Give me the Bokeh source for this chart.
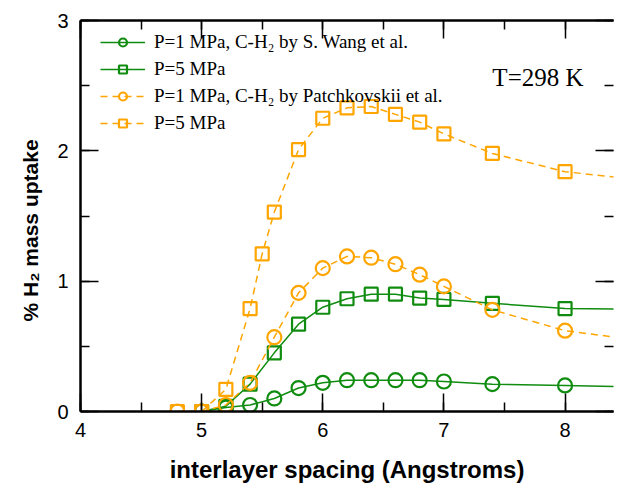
from bokeh.plotting import figure
from bokeh.models import (LinearAxis, SingleIntervalTicker, Range1d, Legend, LegendItem, Label,
                          CustomLabelingPolicy, Title)
from bokeh.embed import file_html
from bokeh.resources import INLINE

# ---- data ----
x_wang = [5.0, 5.2, 5.4, 5.6, 5.8, 6.0, 6.2, 6.4, 6.6, 6.8, 7.0, 7.4, 8.0, 9.0]
wang_1mpa = [0.0, 0.03, 0.05, 0.10, 0.18, 0.22, 0.24, 0.24, 0.24, 0.24, 0.23, 0.21, 0.20, 0.18]
wang_5mpa = [0.0, 0.04, 0.21, 0.45, 0.67, 0.80, 0.865, 0.90, 0.90, 0.87, 0.86, 0.83, 0.79, 0.78]

x_patch_1 = [4.8, 5.0, 5.2, 5.4, 5.6, 5.8, 6.0, 6.2, 6.4, 6.6, 6.8, 7.0, 7.4, 8.0, 9.0]
patch_1mpa = [0.0, 0.0, 0.05, 0.22, 0.57, 0.91, 1.10, 1.19, 1.18, 1.13, 1.05, 0.96, 0.78, 0.62, 0.50]
x_patch_5 = [4.8, 5.0, 5.2, 5.4, 5.5, 5.6, 5.8, 6.0, 6.2, 6.4, 6.6, 6.8, 7.0, 7.4, 8.0, 9.0]
patch_5mpa = [0.0, 0.0, 0.17, 0.79, 1.21, 1.53, 2.01, 2.25, 2.33, 2.34, 2.28, 2.22, 2.13, 1.98, 1.84, 1.74]

labels = ["P=1 MPa, C-H\u2082 by S. Wang et al.",
          "P=5 MPa",
          "P=1 MPa, C-H\u2082 by Patchkovskii et al.",
          "P=5 MPa"]
x_title = "interlayer spacing (Angstroms)"
y_title = "% H\u2082 mass uptake"
note = "T=298 K"
x_view = (4, 8.40)
y_view = (0, 3)

GREEN = "#108c10"
ORANGE = "#ffa500"

p = figure(width=617, height=485, output_backend="svg", toolbar_location=None,
           x_range=Range1d(*x_view), y_range=Range1d(*y_view),
           min_border_left=80, min_border_right=0, min_border_top=20, min_border_bottom=73,
           x_axis_location=None, y_axis_location=None)
p.grid.visible = False
p.outline_line_color = None
p.background_fill_color = "white"
p.border_fill_color = "white"

hide_all = CustomLabelingPolicy(code="for (const i of indices) indices.unset(i)")

def style_axis(ax, labels_on=True):
    ax.ticker = SingleIntervalTicker(interval=1, num_minor_ticks=2)
    ax.major_tick_in = 18
    ax.major_tick_out = 0
    ax.minor_tick_in = 9
    ax.minor_tick_out = 0
    ax.major_tick_line_color = "black"
    ax.minor_tick_line_color = "black"
    ax.major_tick_line_width = 1.5
    ax.minor_tick_line_width = 1.5
    ax.axis_line_width = 2.5
    ax.axis_line_color = "black"
    if labels_on:
        ax.major_label_text_font = "Liberation Sans"
        ax.major_label_text_font_size = "20px"
        ax.major_label_text_color = "black"
    else:
        ax.major_label_text_font_size = "1px"
        ax.major_label_standoff = 0
        ax.major_label_policy = hide_all

xb = LinearAxis(axis_label=x_title)
style_axis(xb)
xb.major_label_standoff = 11
xb.axis_label_standoff = 16
xb.axis_label_text_font = "Liberation Sans"
xb.axis_label_text_font_style = "bold"
xb.axis_label_text_font_size = "24px"
xb.axis_label_text_color = "black"
p.add_layout(xb, "below")

yl = LinearAxis()
style_axis(yl)
yl.major_label_standoff = 12
p.add_layout(yl, "left")

# y title: a left-side title, started 90px above the frame bottom
p.add_layout(Title(text=y_title, align="left", offset=90, standoff=24,
                   vertical_align="middle", text_font="Liberation Sans",
                   text_font_style="bold", text_font_size="21px", text_color="black"), "left")

xt = LinearAxis()
style_axis(xt, labels_on=False)
p.add_layout(xt, "above")

yr = LinearAxis()
style_axis(yr, labels_on=False)
yr.axis_line_color = None
p.add_layout(yr, "right")

# ---- series ----
r_gc_l = p.line(x_wang, wang_1mpa, line_color=GREEN, line_width=1.5)
r_gc_m = p.scatter(x_wang, wang_1mpa, marker="circle", size=14, line_color=GREEN,
                   line_width=2.2, fill_color=None)
r_gs_l = p.line(x_wang, wang_5mpa, line_color=GREEN, line_width=1.5)
r_gs_m = p.scatter(x_wang, wang_5mpa, marker="square", size=13, line_color=GREEN,
                   line_width=2.2, fill_color=None)
r_oc_l = p.line(x_patch_1, patch_1mpa, line_color=ORANGE, line_width=1.5, line_dash="7 5")
r_oc_m = p.scatter(x_patch_1, patch_1mpa, marker="circle", size=14, line_color=ORANGE,
                   line_width=2.2, fill_color=None)
r_os_l = p.line(x_patch_5, patch_5mpa, line_color=ORANGE, line_width=1.5, line_dash="7 5")
r_os_m = p.scatter(x_patch_5, patch_5mpa, marker="square", size=13, line_color=ORANGE,
                   line_width=2.2, fill_color=None)

legend = Legend(items=[
    LegendItem(label=labels[0], renderers=[r_gc_l, r_gc_m]),
    LegendItem(label=labels[1], renderers=[r_gs_l, r_gs_m]),
    LegendItem(label=labels[2], renderers=[r_oc_l, r_oc_m]),
    LegendItem(label=labels[3], renderers=[r_os_l, r_os_m]),
], location=(20, 277))
legend.border_line_color = None
legend.background_fill_alpha = 0
legend.label_text_font = "Liberation Serif"
legend.label_text_font_size = "19px"
legend.label_text_color = "black"
legend.glyph_width = 45
legend.glyph_height = 20
legend.label_height = 20
legend.spacing = 5
legend.padding = 8
legend.margin = 0
legend.label_standoff = 9
p.add_layout(legend, "center")

p.add_layout(Label(x=7.40, y=2.46, text=note, text_font="Liberation Serif",
                   text_font_size="25px", text_color="black"))

open("out.html", "w").write(file_html(p, INLINE))
